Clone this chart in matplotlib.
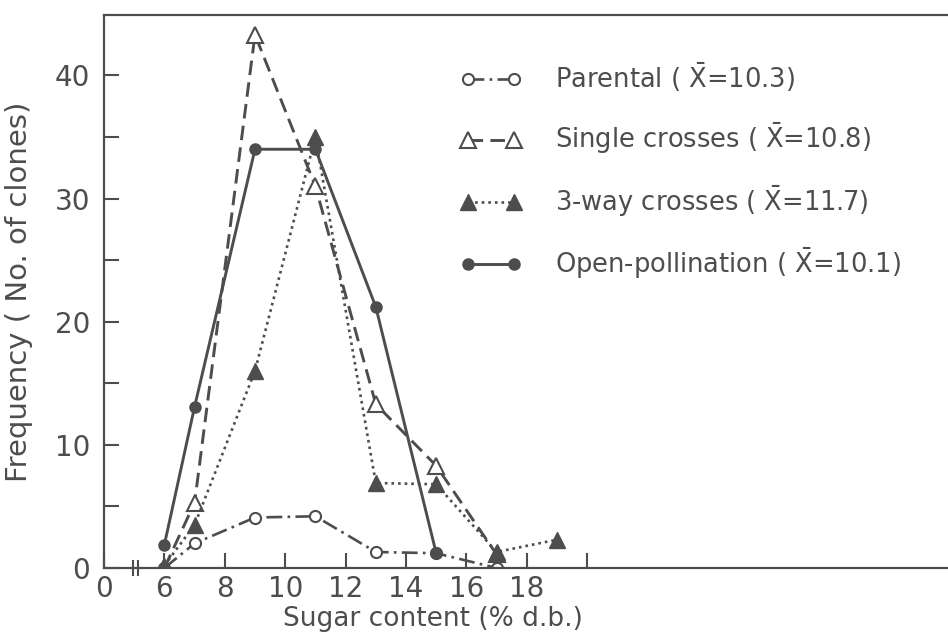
import matplotlib.pyplot as plt
import matplotlib.transforms as mtransforms

ink = "#4d4d4d"

# class midpoints (sugar content, % d.b.)
x_par = [6, 7, 9, 11, 13, 15, 17]
parental = [0, 2.0, 4.1, 4.2, 1.3, 1.2, 0]
x_single = [6, 7, 9, 11, 13, 15, 17]
single = [0, 5.3, 43.3, 31.0, 13.3, 8.3, 1.1]
x_three = [6, 7, 9, 11, 13, 15, 17, 19]
three_way = [0.2, 3.5, 16.0, 35.0, 6.9, 6.8, 1.3, 2.3]
x_open = [6, 7, 9, 11, 13, 15]
open_poll = [1.9, 13.1, 34.0, 34.0, 21.2, 1.2]

labels = [r"Parental ( $\bar{\mathrm{X}}$=10.3)",
          r"Single crosses ( $\bar{\mathrm{X}}$=10.8)",
          r"3-way crosses ( $\bar{\mathrm{X}}$=11.7)",
          r"Open-pollination ( $\bar{\mathrm{X}}$=10.1)"]

xticks = [4, 6, 8, 10, 12, 14, 16, 18, 20]
xticklabels = ["0", "6", "8", "10", "12", "14", "16", "18", ""]

plt.rcParams["font.family"] = "DejaVu Sans"
plt.rcParams["mathtext.fontset"] = "dejavusans"

fig = plt.figure(figsize=(9.48, 6.38), dpi=100)
ax = fig.add_axes([104 / 948, 70 / 638, 860 / 948, 553 / 638])

ax.plot(x_par, parental, color=ink, lw=1.9, ls=(0, (6, 2, 1, 2)),
        marker="o", ms=8, mfc="white", mec=ink, mew=1.5, label=labels[0])
ax.plot(x_single, single, color=ink, lw=2.1, ls=(0, (5, 2.5)),
        marker="^", ms=11, mfc="white", mec=ink, mew=1.5, label=labels[1])
ax.plot(x_three, three_way, color=ink, lw=1.9, ls=(0, (1, 1.5)),
        marker="^", ms=11, mfc=ink, mec=ink, label=labels[2])
ax.plot(x_open, open_poll, color=ink, lw=2.1, ls="-",
        marker="o", ms=8, mfc=ink, mec=ink, label=labels[3])

ax.set_xlim(4, 4 + 860 / 30.2)
ax.set_ylim(0, 44.9)

ax.spines["right"].set_visible(False)
for s in ["left", "top", "bottom"]:
    ax.spines[s].set_color(ink)
    ax.spines[s].set_linewidth(1.6)

ax.set_xticks(xticks)
ax.set_xticklabels(xticklabels)
ax.set_yticks(range(0, 45, 5))
ax.set_yticklabels([str(v) if v % 10 == 0 else "" for v in range(0, 45, 5)])
ax.tick_params(direction="in", length=11, width=1.5, color=ink,
               labelcolor=ink, labelsize=20)
ax.tick_params(axis="x", pad=5)
ax.tick_params(axis="y", pad=10)

# axis break mark
trans = mtransforms.blended_transform_factory(ax.transData, ax.transAxes)
for bx in [4.95, 5.12]:
    ax.plot([bx, bx], [-0.012, 0.012], color=ink, lw=1.5, transform=trans,
            clip_on=False)

ax.set_xlabel("Sugar content (% d.b.)", fontsize=19, color=ink)
ax.xaxis.set_label_coords((433 - 104) / 860, -0.068)
ax.set_ylabel("Frequency ( No. of clones)", fontsize=21, color=ink)
ax.yaxis.set_label_coords(-0.082, 0.5)

ax.legend(loc="upper left", bbox_to_anchor=(460 / 948, 1 - 61 / 638),
          bbox_transform=fig.transFigure, frameon=False, fontsize=18.5,
          handlelength=2.4, handletextpad=1.3, labelspacing=1.05,
          borderpad=0, borderaxespad=0, numpoints=2, labelcolor=ink)

fig.savefig("out.png", dpi=100, facecolor="white")
